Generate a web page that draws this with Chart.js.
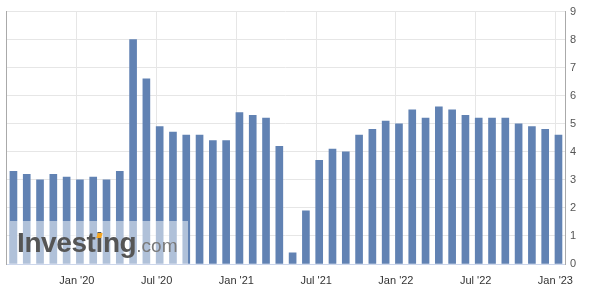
<!DOCTYPE html>
<html lang="en">
<head>
    <meta charset="UTF-8">
    <title>Monthly bars</title>
    <script src="https://cdn.jsdelivr.net/npm/chart.js"></script>
    <style>
        body { margin: 0; background: #fff; }
        #wrap { position: relative; width: 592px; height: 300px; }
        #mark { position: absolute; left: 10px; top: 221px; width: 178px; height: 43px;
                background: rgba(255,255,255,0.5); pointer-events: none; }
        #mark .big { position: absolute; left: 7px; top: 6px; font: bold 28px Arial, "Liberation Sans", sans-serif;
                     color: #555; letter-spacing: -0.4px; }
        #mark .dom { font-weight: normal; font-size: 19px; color: #7a7a7a; letter-spacing: 0; }
        #mark .dot { position: absolute; left: 87px; top: 12px; width: 5px; height: 5px; background: #f5a623;
                     transform: skewX(-15deg); }
    </style>
</head>
<body>
    <div id="wrap">
        <canvas id="grafica" width="592" height="300"></canvas>
        <div id="mark"><span class="big">Investing<span class="dom">.com</span></span><span class="dot"></span></div>
    </div>

    <script>
        // meses (Aug 2019 .. Jan 2023)
        const months = ['Aug 19','Sep 19','Oct 19','Nov 19','Dec 19','Jan 20','Feb 20','Mar 20','Apr 20','May 20',
                        'Jun 20','Jul 20','Aug 20','Sep 20','Oct 20','Nov 20','Dec 20','Jan 21','Feb 21','Mar 21',
                        'Apr 21','May 21','Jun 21','Jul 21','Aug 21','Sep 21','Oct 21','Nov 21','Dec 21','Jan 22',
                        'Feb 22','Mar 22','Apr 22','May 22','Jun 22','Jul 22','Aug 22','Sep 22','Oct 22','Nov 22',
                        'Dec 22','Jan 23'];
        const values = [3.3, 3.2, 3.0, 3.2, 3.1, 3.0, 3.1, 3.0, 3.3, 8.0,
                        6.6, 4.9, 4.7, 4.6, 4.6, 4.4, 4.4, 5.4, 5.3, 5.2,
                        4.2, 0.4, 1.9, 3.7, 4.1, 4.0, 4.6, 4.8, 5.1, 5.0,
                        5.5, 5.2, 5.6, 5.5, 5.3, 5.2, 5.2, 5.2, 5.0, 4.9,
                        4.8, 4.6];
        const tickMonths = ['Jan 20', 'Jul 20', 'Jan 21', 'Jul 21', 'Jan 22', 'Jul 22', 'Jan 23'];
        const tickLabels = ["Jan '20", "Jul '20", "Jan '21", "Jul '21", "Jan '22", "Jul '22", "Jan '23"];

        const FONT = 'Arial, "Liberation Sans", sans-serif';
        const GRID_SHIFT = -0.23; // grid line sits at start of the month bar

        new Chart(document.getElementById('grafica'), {
            type: 'bar',
            data: {
                datasets: [{
                    data: values.map((v, i) => ({ x: i, y: v })),
                    backgroundColor: '#6182b3',
                    barThickness: 7
                }]
            },
            options: {
                responsive: false,
                animation: false,
                layout: { padding: { top: 8, left: 6, right: 0, bottom: 0 } },
                plugins: { legend: { display: false }, tooltip: { enabled: false } },
                scales: {
                    x: {
                        type: 'linear',
                        offset: false,
                        min: -0.56,
                        max: 41.49,
                        afterBuildTicks: s => {
                            s.ticks = tickMonths.map(m => ({ value: months.indexOf(m) + GRID_SHIFT }));
                        },
                        afterFit: s => { s.height = 36; },
                        grid: { color: '#e6e6e6', drawTicks: false, offset: false },
                        border: { color: '#ccd6eb' },
                        ticks: {
                            padding: 10,
                            maxRotation: 0,
                            autoSkip: false,
                            color: '#333',
                            font: { family: FONT, size: 11 },
                            callback: (v, i) => tickLabels[i]
                        }
                    },
                    y: {
                        position: 'right',
                        min: 0,
                        max: 9,
                        afterFit: s => { s.width = 27; },
                        grid: { color: '#e6e6e6', drawTicks: false },
                        border: { color: '#aaa' },
                        ticks: {
                            stepSize: 1,
                            padding: 5,
                            color: '#555',
                            font: { family: FONT, size: 11 }
                        }
                    },
                    yLeft: {
                        position: 'left',
                        min: 0,
                        max: 9,
                        afterFit: s => { s.width = 0; },
                        grid: { display: false, drawTicks: false },
                        border: { color: '#aaa' },
                        ticks: { display: false }
                    }
                }
            }
        });
    </script>
</body>
</html>
